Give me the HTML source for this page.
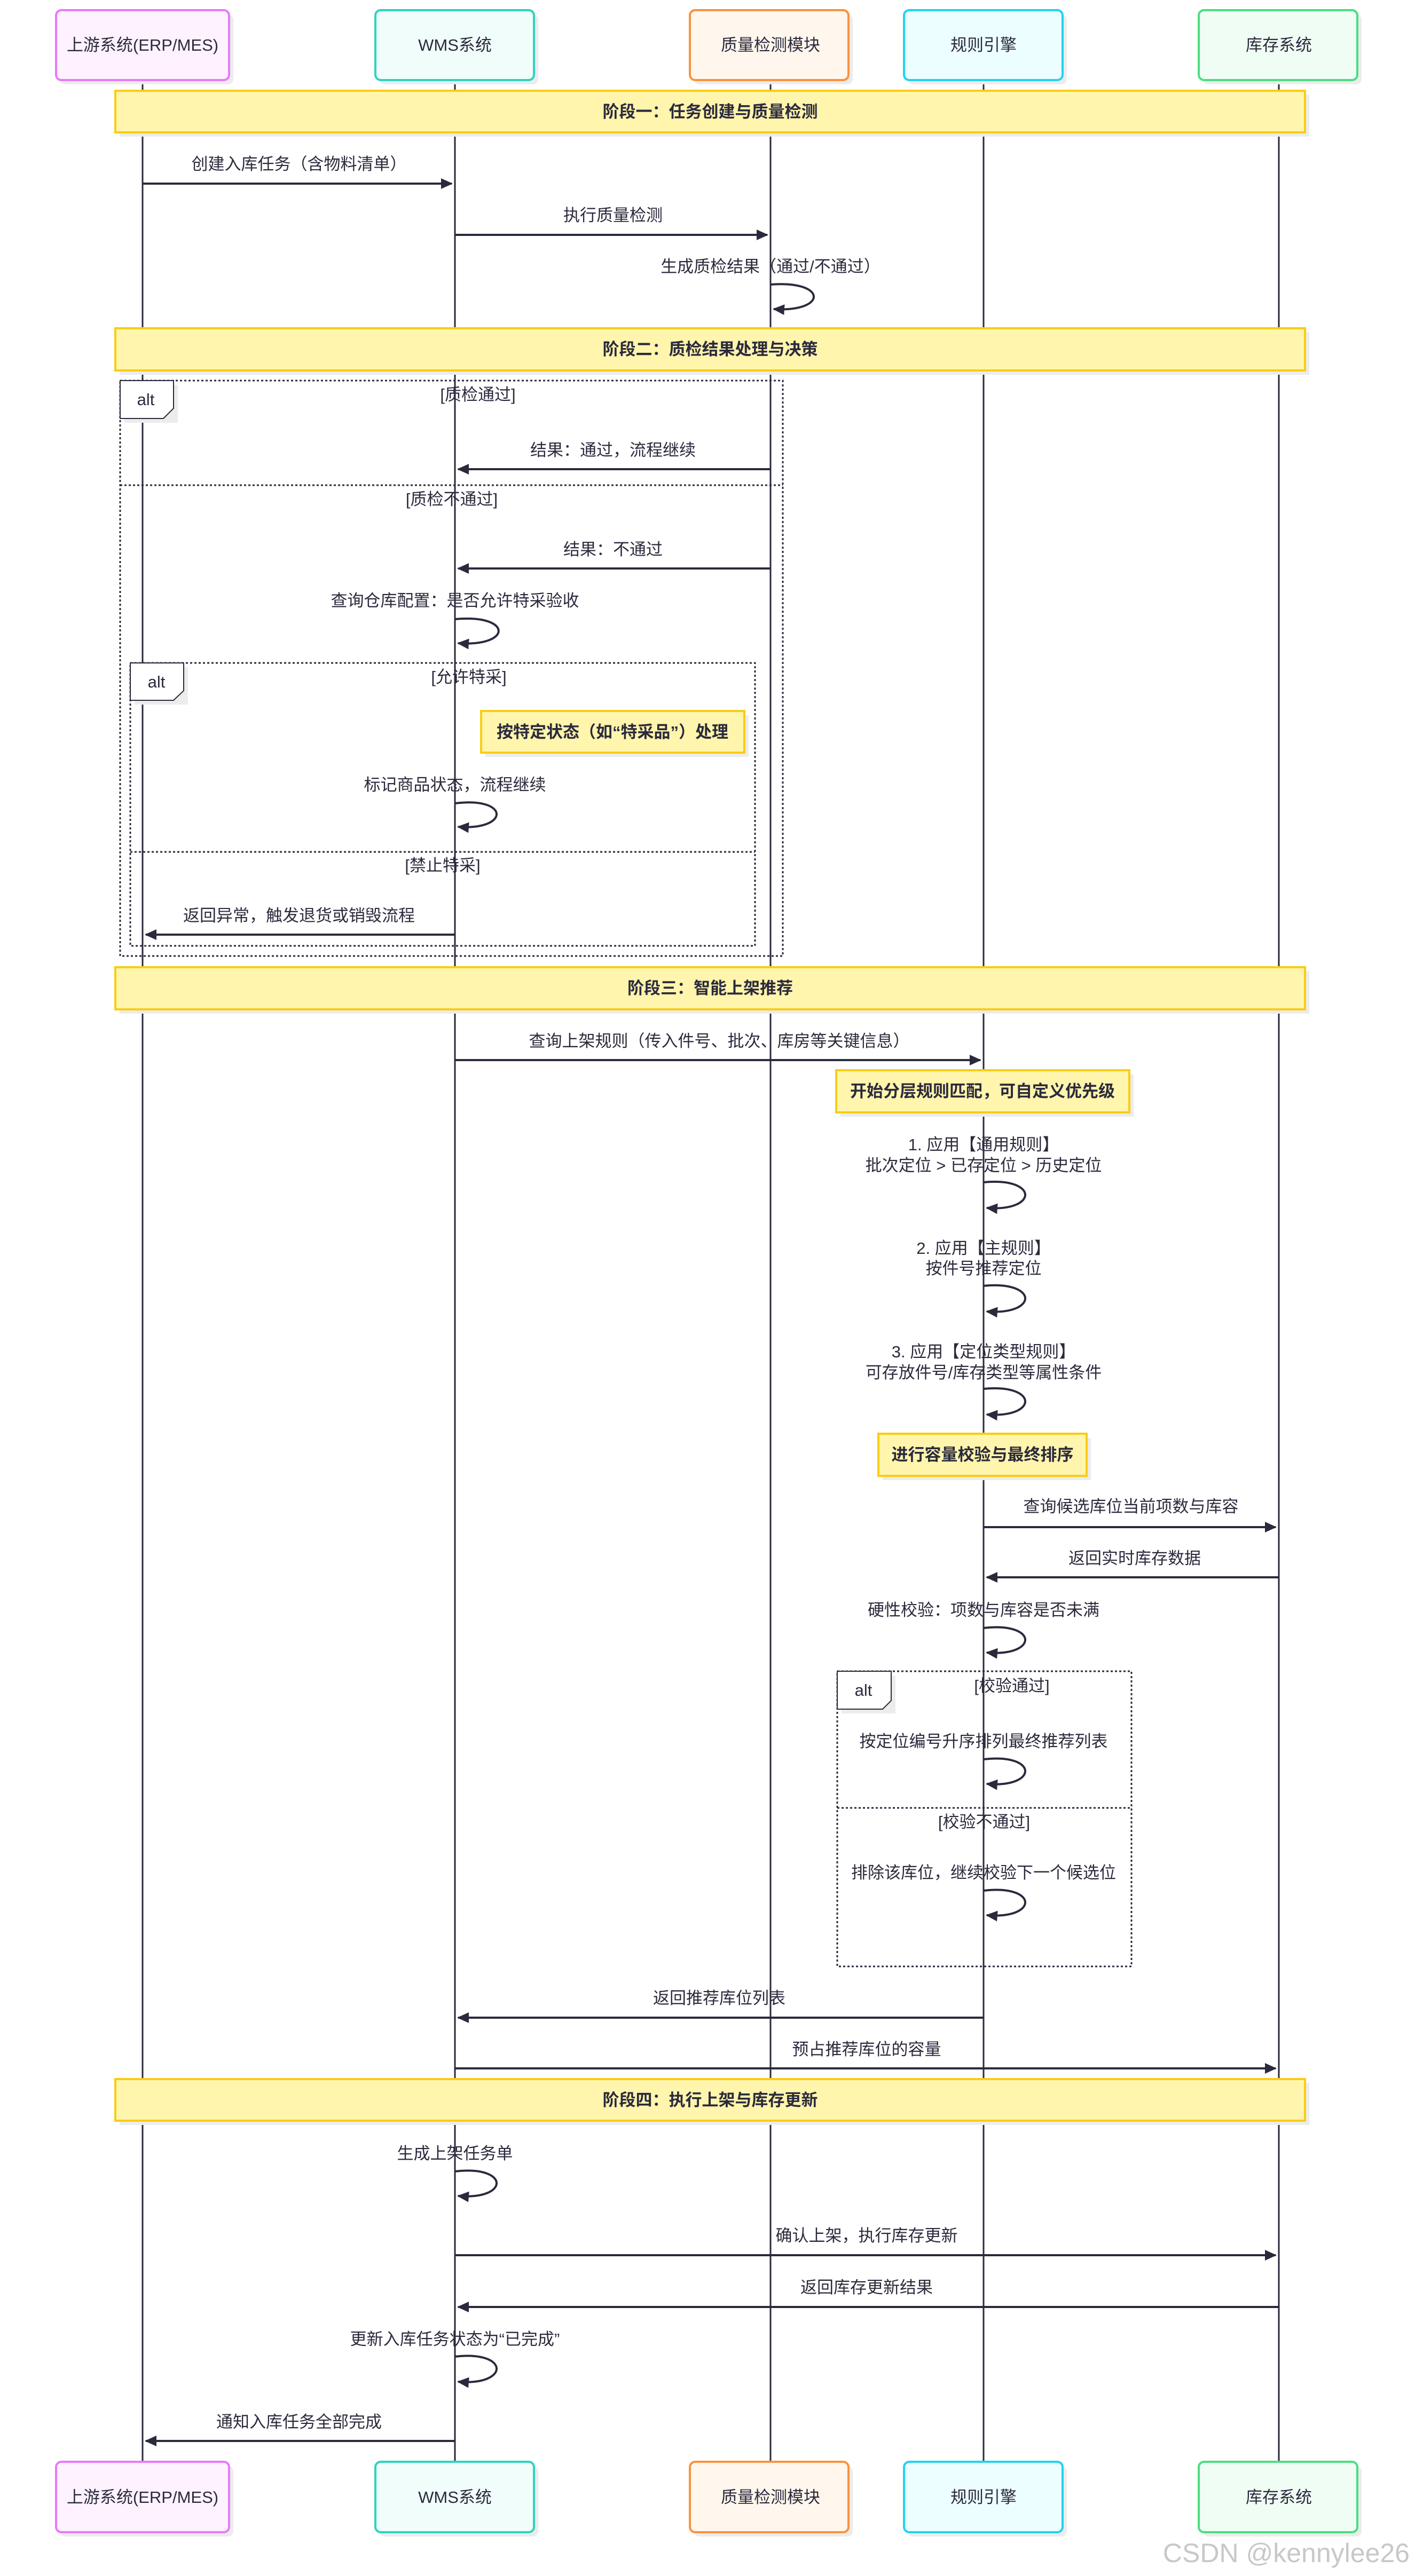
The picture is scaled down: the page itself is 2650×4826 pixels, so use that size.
<!DOCTYPE html>
<html><head><meta charset="utf-8"><style>
html,body{margin:0;padding:0;background:#fff;}
svg{display:block;}
text{font-family:"Liberation Sans","Noto Sans CJK SC",sans-serif;fill:#2b2a3c;}
.m{font-size:31px;text-anchor:middle;}
.b{font-size:31px;font-weight:bold;text-anchor:middle;}
.ll{stroke:#2b2a3c;stroke-width:3;}
.ar{stroke:#2b2a3c;stroke-width:4;fill:none;}
.lp{stroke:#2b2a3c;stroke-width:4;fill:none;}
.dt{stroke:#2b2a3c;stroke-width:3;fill:none;stroke-dasharray:4 4;}
.ph{fill:#fff5ad;stroke:#facc15;stroke-width:4;}
.nt{fill:#fff5ad;stroke:#facc15;stroke-width:4;}
.sh{fill:#ececec;}
</style></head><body>
<svg width="2650" height="4826" viewBox="0 0 2650 4826" xmlns="http://www.w3.org/2000/svg">
<defs>
<marker id="ah" markerWidth="12" markerHeight="12" refX="10" refY="6" orient="auto" markerUnits="userSpaceOnUse" viewBox="0 0 12 12"><path d="M0,0 L12,6 L0,12 z" fill="#2b2a3c"/></marker>
<marker id="ah2" markerWidth="24" markerHeight="24" refX="20" refY="12" orient="auto" markerUnits="userSpaceOnUse" viewBox="0 0 24 24"><path d="M0,2 L22,12 L0,22 z" fill="#2b2a3c"/></marker>
</defs>
<!-- lifelines -->
<line class="ll" x1="267" y1="150" x2="267" y2="4612"/>
<line class="ll" x1="852" y1="150" x2="852" y2="4612"/>
<line class="ll" x1="1443" y1="150" x2="1443" y2="4612"/>
<line class="ll" x1="1842" y1="150" x2="1842" y2="4612"/>
<line class="ll" x1="2395" y1="150" x2="2395" y2="4612"/>

<!-- actor boxes top -->
<g>
<rect class="sh" x="113" y="27" width="324" height="131" rx="10"/>
<rect x="105" y="19" width="324" height="131" rx="10" fill="#fdf2fe" stroke="#e879f9" stroke-width="4"/>
<text class="m" x="267" y="95">上游系统(ERP/MES)</text>
<rect class="sh" x="711" y="27" width="297" height="131" rx="10"/>
<rect x="703" y="19" width="297" height="131" rx="10" fill="#f0fdfa" stroke="#2dd4bf" stroke-width="4"/>
<text class="m" x="852" y="95">WMS系统</text>
<rect class="sh" x="1300" y="27" width="297" height="131" rx="10"/>
<rect x="1292" y="19" width="297" height="131" rx="10" fill="#fff7ed" stroke="#fb923c" stroke-width="4"/>
<text class="m" x="1443" y="95">质量检测模块</text>
<rect class="sh" x="1701" y="27" width="297" height="131" rx="10"/>
<rect x="1693" y="19" width="297" height="131" rx="10" fill="#ecfeff" stroke="#22d3ee" stroke-width="4"/>
<text class="m" x="1842" y="95">规则引擎</text>
<rect class="sh" x="2253" y="27" width="297" height="131" rx="10"/>
<rect x="2245" y="19" width="297" height="131" rx="10" fill="#f0fdf4" stroke="#4ade80" stroke-width="4"/>
<text class="m" x="2395" y="95">库存系统</text>
</g>
<!-- actor boxes bottom -->
<g>
<rect class="sh" x="113" y="4620" width="324" height="132" rx="10"/>
<rect x="105" y="4612" width="324" height="132" rx="10" fill="#fdf2fe" stroke="#e879f9" stroke-width="4"/>
<text class="m" x="267" y="4689">上游系统(ERP/MES)</text>
<rect class="sh" x="711" y="4620" width="297" height="132" rx="10"/>
<rect x="703" y="4612" width="297" height="132" rx="10" fill="#f0fdfa" stroke="#2dd4bf" stroke-width="4"/>
<text class="m" x="852" y="4689">WMS系统</text>
<rect class="sh" x="1300" y="4620" width="297" height="132" rx="10"/>
<rect x="1292" y="4612" width="297" height="132" rx="10" fill="#fff7ed" stroke="#fb923c" stroke-width="4"/>
<text class="m" x="1443" y="4689">质量检测模块</text>
<rect class="sh" x="1701" y="4620" width="297" height="132" rx="10"/>
<rect x="1693" y="4612" width="297" height="132" rx="10" fill="#ecfeff" stroke="#22d3ee" stroke-width="4"/>
<text class="m" x="1842" y="4689">规则引擎</text>
<rect class="sh" x="2253" y="4620" width="297" height="132" rx="10"/>
<rect x="2245" y="4612" width="297" height="132" rx="10" fill="#f0fdf4" stroke="#4ade80" stroke-width="4"/>
<text class="m" x="2395" y="4689">库存系统</text>
</g>

<!-- Phase 1 -->
<rect class="sh" x="224" y="177" width="2228" height="79"/>
<rect class="ph" x="216" y="170" width="2228" height="78"/>
<text class="b" x="1330" y="220">阶段一：任务创建与质量检测</text>
<text class="m" x="560" y="318">创建入库任务（含物料清单）</text>
<line class="ar" x1="267" y1="344" x2="846" y2="344" marker-end="url(#ah2)"/>
<text class="m" x="1148" y="414">执行质量检测</text>
<line class="ar" x1="852" y1="440" x2="1437" y2="440" marker-end="url(#ah2)"/>
<text class="m" x="1443" y="510">生成质检结果（通过/不通过）</text>
<path class="lp" d="M1443,533 C1550,525 1550,585 1449,579" marker-end="url(#ah2)"/>

<!-- Phase 2 -->
<rect class="sh" x="224" y="622" width="2228" height="80"/>
<rect class="ph" x="216" y="615" width="2228" height="79"/>
<text class="b" x="1330" y="665">阶段二：质检结果处理与决策</text>

<rect class="dt" x="225" y="713" width="1241" height="1078"/>
<rect class="sh" x="233" y="721" width="100" height="71"/>
<path d="M225,713 L325,713 L325,765 L306,784 L225,784 z" fill="#fff" stroke="#2b2a3c" stroke-width="2"/>
<text x="273" y="759" style="font-size:31px;text-anchor:middle">alt</text>
<text class="m" x="895" y="750">[质检通过]</text>
<text class="m" x="1148" y="854">结果：通过，流程继续</text>
<line class="ar" x1="1443" y1="879" x2="858" y2="879" marker-end="url(#ah2)"/>
<line class="dt" x1="225" y1="909" x2="1466" y2="909"/>
<text class="m" x="846" y="946">[质检不通过]</text>
<text class="m" x="1148" y="1040">结果：不通过</text>
<line class="ar" x1="1443" y1="1065" x2="858" y2="1065" marker-end="url(#ah2)"/>
<text class="m" x="852" y="1136">查询仓库配置：是否允许特采验收</text>
<path class="lp" d="M852,1160 C960,1150 960,1212 858,1205" marker-end="url(#ah2)"/>

<rect class="dt" x="244" y="1242" width="1170" height="530"/>
<rect class="sh" x="252" y="1250" width="100" height="70"/>
<path d="M244,1242 L344,1242 L344,1294 L325,1312 L244,1312 z" fill="#fff" stroke="#2b2a3c" stroke-width="2"/>
<text x="293" y="1288" style="font-size:31px;text-anchor:middle">alt</text>
<text class="m" x="878" y="1279">[允许特采]</text>
<rect class="sh" x="909" y="1340" width="493" height="78"/>
<rect class="nt" x="901" y="1332" width="493" height="78"/>
<text class="b" x="1147" y="1382">按特定状态（如“特采品”）处理</text>
<text class="m" x="852" y="1481">标记商品状态，流程继续</text>
<path class="lp" d="M852,1505 C955,1492 955,1556 858,1549" marker-end="url(#ah2)"/>
<line class="dt" x1="244" y1="1596" x2="1414" y2="1596"/>
<text class="m" x="829" y="1632">[禁止特采]</text>
<text class="m" x="560" y="1726">返回异常，触发退货或销毁流程</text>
<line class="ar" x1="852" y1="1751" x2="273" y2="1751" marker-end="url(#ah2)"/>

<!-- Phase 3 -->
<rect class="sh" x="224" y="1819" width="2228" height="80"/>
<rect class="ph" x="216" y="1812" width="2228" height="79"/>
<text class="b" x="1330" y="1862">阶段三：智能上架推荐</text>
<text class="m" x="1347" y="1961">查询上架规则（传入件号、批次、库房等关键信息）</text>
<line class="ar" x1="852" y1="1986" x2="1836" y2="1986" marker-end="url(#ah2)"/>
<rect class="sh" x="1574" y="2013" width="549" height="79"/>
<rect class="nt" x="1566" y="2005" width="549" height="79"/>
<text class="b" x="1840" y="2055">开始分层规则匹配，可自定义优先级</text>
<text class="m" x="1842" y="2155">1. 应用【通用规则】</text>
<text class="m" x="1842" y="2194">批次定位 &gt; 已存定位 &gt; 历史定位</text>
<path class="lp" d="M1842,2215 C1945,2205 1945,2270 1848,2263" marker-end="url(#ah2)"/>
<text class="m" x="1842" y="2349">2. 应用【主规则】</text>
<text class="m" x="1842" y="2387">按件号推荐定位</text>
<path class="lp" d="M1842,2409 C1945,2399 1945,2464 1848,2457" marker-end="url(#ah2)"/>
<text class="m" x="1842" y="2543">3. 应用【定位类型规则】</text>
<text class="m" x="1842" y="2582">可存放件号/库存类型等属性条件</text>
<path class="lp" d="M1842,2602 C1945,2592 1945,2657 1848,2650" marker-end="url(#ah2)"/>
<rect class="sh" x="1653" y="2694" width="390" height="79"/>
<rect class="nt" x="1645" y="2686" width="390" height="79"/>
<text class="b" x="1840" y="2736">进行容量校验与最终排序</text>
<text class="m" x="2118" y="2833">查询候选库位当前项数与库容</text>
<line class="ar" x1="1842" y1="2861" x2="2389" y2="2861" marker-end="url(#ah2)"/>
<text class="m" x="2125" y="2930">返回实时库存数据</text>
<line class="ar" x1="2395" y1="2955" x2="1848" y2="2955" marker-end="url(#ah2)"/>
<text class="m" x="1842" y="3027">硬性校验：项数与库容是否未满</text>
<path class="lp" d="M1842,3050 C1945,3038 1945,3104 1848,3096" marker-end="url(#ah2)"/>

<rect class="dt" x="1568" y="3131" width="551" height="553"/>
<rect class="sh" x="1576" y="3139" width="101" height="71"/>
<path d="M1568,3131 L1669,3131 L1669,3186 L1653,3202 L1568,3202 z" fill="#fff" stroke="#2b2a3c" stroke-width="2"/>
<text x="1617" y="3177" style="font-size:31px;text-anchor:middle">alt</text>
<text class="m" x="1895" y="3169">[校验通过]</text>
<text class="m" x="1842" y="3273">按定位编号升序排列最终推荐列表</text>
<path class="lp" d="M1842,3296 C1945,3284 1945,3350 1848,3342" marker-end="url(#ah2)"/>
<line class="dt" x1="1568" y1="3387" x2="2119" y2="3387"/>
<text class="m" x="1843" y="3424">[校验不通过]</text>
<text class="m" x="1842" y="3519">排除该库位，继续校验下一个候选位</text>
<path class="lp" d="M1842,3542 C1945,3530 1945,3596 1848,3588" marker-end="url(#ah2)"/>

<text class="m" x="1347" y="3754">返回推荐库位列表</text>
<line class="ar" x1="1842" y1="3780" x2="858" y2="3780" marker-end="url(#ah2)"/>
<text class="m" x="1623" y="3850">预占推荐库位的容量</text>
<line class="ar" x1="852" y1="3875" x2="2389" y2="3875" marker-end="url(#ah2)"/>

<!-- Phase 4 -->
<rect class="sh" x="224" y="3902" width="2228" height="79"/>
<rect class="ph" x="216" y="3895" width="2228" height="78"/>
<text class="b" x="1330" y="3945">阶段四：执行上架与库存更新</text>
<text class="m" x="852" y="4045">生成上架任务单</text>
<path class="lp" d="M852,4068 C955,4056 955,4122 858,4114" marker-end="url(#ah2)"/>
<text class="m" x="1623" y="4199">确认上架，执行库存更新</text>
<line class="ar" x1="852" y1="4225" x2="2389" y2="4225" marker-end="url(#ah2)"/>
<text class="m" x="1623" y="4296">返回库存更新结果</text>
<line class="ar" x1="2395" y1="4322" x2="858" y2="4322" marker-end="url(#ah2)"/>
<text class="m" x="852" y="4393">更新入库任务状态为“已完成”</text>
<path class="lp" d="M852,4415 C955,4403 955,4470 858,4462" marker-end="url(#ah2)"/>
<text class="m" x="560" y="4548">通知入库任务全部完成</text>
<line class="ar" x1="852" y1="4573" x2="273" y2="4573" marker-end="url(#ah2)"/>

<text x="2640" y="4800" style="font-size:50px;text-anchor:end;fill:#c8c8c8">CSDN @kennylee26</text>
</svg>
</body></html>
